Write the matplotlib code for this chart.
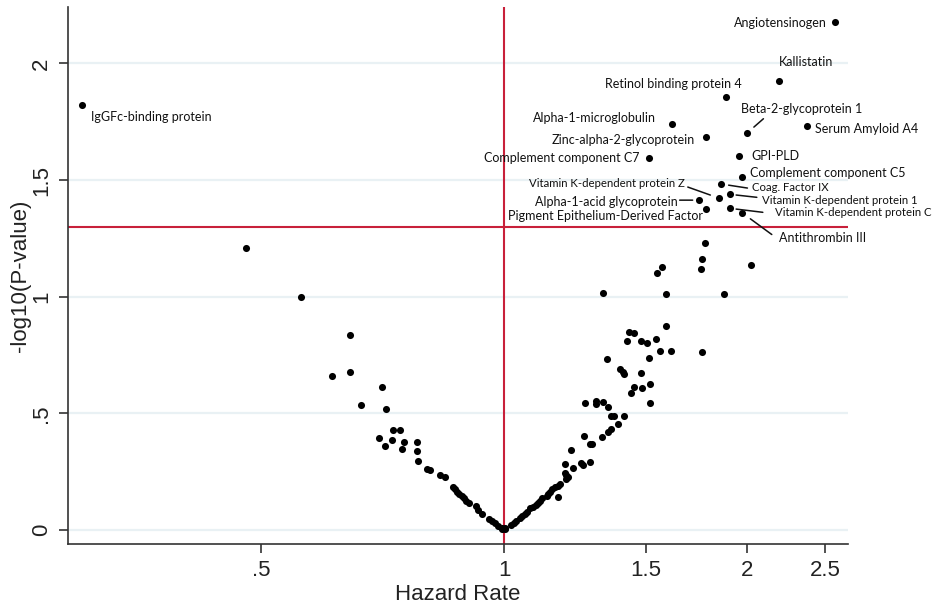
import numpy as np
import matplotlib
matplotlib.use("Agg")
import matplotlib.pyplot as plt
from matplotlib.ticker import FixedLocator, NullLocator

# unlabelled proteins: hazard rate and -log10(p)
hr_left = [0.479, 0.560, 0.645, 0.613, 0.644, 0.706, 0.666, 0.714, 0.729, 0.743,
           0.700, 0.727, 0.751, 0.780, 0.712, 0.748, 0.780, 0.783, 0.803, 0.809,
           0.832, 0.844, 0.865, 0.869, 0.875, 0.880, 0.886, 0.891, 0.898, 0.905,
           0.922, 0.929, 0.938, 0.958, 0.965, 0.974, 0.983, 0.993, 1.002]
lp_left = [1.210, 0.997, 0.837, 0.660, 0.677, 0.614, 0.536, 0.520, 0.429, 0.429,
           0.393, 0.386, 0.379, 0.379, 0.360, 0.349, 0.337, 0.297, 0.260, 0.257,
           0.236, 0.228, 0.186, 0.174, 0.164, 0.154, 0.146, 0.136, 0.126, 0.117,
           0.103, 0.086, 0.069, 0.046, 0.039, 0.029, 0.017, 0.007, 0.003]

hr_right = [1.773, 1.759, 1.752, 1.571, 1.547, 2.025, 1.326, 1.589, 1.873, 1.586,
            1.428, 1.448, 1.422, 1.476, 1.505, 1.541, 1.559, 1.612, 1.759, 1.512,
            1.342, 1.394, 1.402, 1.408, 1.480, 1.515, 1.449, 1.484, 1.435, 1.518,
            1.299, 1.301, 1.326, 1.345, 1.259, 1.358, 1.367, 1.408, 1.384, 1.358,
            1.345, 1.324, 1.255, 1.277, 1.287, 1.210, 1.189, 1.247, 1.251, 1.277,
            1.218, 1.189, 1.195, 1.200, 1.192, 1.172, 1.167, 1.156, 1.148, 1.139,
            1.134, 1.129, 1.167, 1.113, 1.107, 1.102, 1.097, 1.086, 1.078, 1.068,
            1.061, 1.054, 1.046, 1.036, 1.028, 1.021, 1.002, 0.995]
lp_right = [1.229, 1.160, 1.119, 1.129, 1.100, 1.136, 1.015, 1.012, 1.010, 0.874,
            0.850, 0.846, 0.811, 0.809, 0.803, 0.817, 0.769, 0.769, 0.764, 0.739,
            0.734, 0.689, 0.679, 0.669, 0.672, 0.625, 0.614, 0.610, 0.586, 0.543,
            0.554, 0.540, 0.549, 0.529, 0.546, 0.490, 0.489, 0.490, 0.454, 0.433,
            0.421, 0.400, 0.403, 0.369, 0.369, 0.343, 0.283, 0.288, 0.279, 0.293,
            0.264, 0.246, 0.236, 0.226, 0.217, 0.197, 0.189, 0.183, 0.174, 0.164,
            0.154, 0.146, 0.140, 0.136, 0.126, 0.114, 0.107, 0.100, 0.093, 0.078,
            0.069, 0.060, 0.050, 0.040, 0.031, 0.021, 0.007, 0.003]

# labelled proteins
names = ["Angiotensinogen", "Kallistatin", "Retinol binding protein 4",
         "Beta-2-glycoprotein 1", "Serum Amyloid A4", "Alpha-1-microglobulin",
         "Zinc-alpha-2-glycoprotein", "Complement component C7", "GPI-PLD",
         "Complement component C5", "Coag. Factor IX", "Vitamin K-dependent protein Z",
         "Vitamin K-dependent protein 1", "Alpha-1-acid glycoprotein",
         "Pigment Epithelium-Derived Factor", "Vitamin K-dependent protein C",
         "Antithrombin III", "IgGFc-binding protein"]
hr_lab = [2.568, 2.191, 1.882, 2.002, 2.373, 1.615, 1.778, 1.512, 1.955,
          1.970, 1.859, 1.845, 1.904, 1.742, 1.781, 1.904, 1.970, 0.300]
lp_lab = [2.179, 1.926, 1.855, 1.703, 1.732, 1.740, 1.683, 1.593, 1.603,
          1.514, 1.483, 1.423, 1.439, 1.414, 1.375, 1.379, 1.361, 1.822]

# label placement: pixel offset from the dot, alignment, font size, leader line start/end
label_pos = {
    "Angiotensinogen": (-8, -1, "right", 9, None),
    "Kallistatin": (0, 19, "left", 9, None),
    "Retinol binding protein 4": (16, 13, "right", 9, None),
    "Beta-2-glycoprotein 1": (-6, 24, "left", 9, ((8, 3), (16, 14))),
    "Serum Amyloid A4": (8, -3, "left", 9, None),
    "Alpha-1-microglobulin": (-16, 6, "right", 9, None),
    "Zinc-alpha-2-glycoprotein": (-11, -3, "right", 9, None),
    "Complement component C7": (-9, 0, "right", 9, None),
    "GPI-PLD": (12, 0, "left", 9, None),
    "Complement component C5": (8, 4, "left", 9, None),
    "Coag. Factor IX": (31, -3, "left", 8.2, ((7, -2), (26, -4))),
    "Vitamin K-dependent protein Z": (-34, 15, "right", 8.2, ((-8, 4), (-31, 11))),
    "Vitamin K-dependent protein 1": (32, -6, "left", 8.2, ((6, -2), (27, -3))),
    "Alpha-1-acid glycoprotein": (-21, -2, "right", 9, ((-6, 0), (-19, 0))),
    "Pigment Epithelium-Derived Factor": (-3, -7, "right", 9, None),
    "Vitamin K-dependent protein C": (45, -4, "left", 8.2, ((6, 2), (33, -4))),
    "Antithrombin III": (37, -25, "left", 9, ((7, -8), (30, -22))),
    "IgGFc-binding protein": (9, -12, "left", 9, None),
}

xticks = [0.5, 1, 1.5, 2, 2.5]
xticklabels = [".5", "1", "1.5", "2", "2.5"]
yticks = [0, 0.5, 1, 1.5, 2]
yticklabels = ["0", ".5", "1", "1.5", "2"]

plt.rcParams["font.family"] = ["Liberation Sans", "DejaVu Sans"]
fig = plt.figure(figsize=(9.42, 6.07), dpi=100)
ax = fig.add_axes([68 / 942, 63 / 607, 780 / 942, 537 / 607])

ax.set_xscale("log")
ax.set_xlim(0.2884, 2.667)
ax.set_ylim(-0.06, 2.242)

for y in yticks:
    ax.axhline(y, color="#e9f1f4", lw=1.6, zorder=0)

red = "#c8203a"
ax.axvline(1, color=red, lw=1.5, zorder=1)
ax.axhline(-np.log10(0.05), color=red, lw=1.5, zorder=1)

ax.scatter(hr_left + hr_right + hr_lab, lp_left + lp_right + lp_lab,
           s=26, color="black", linewidths=0, zorder=3)

for name, x, y in zip(names, hr_lab, lp_lab):
    dx, dy, ha, fs, leader = label_pos[name]
    ax.annotate(name, (x, y), xytext=(dx, dy), textcoords="offset pixels",
                ha=ha, va="center", fontsize=fs, family=["Lato", "DejaVu Sans"],
                color="#111111", zorder=4)
    if leader is not None:
        (sx, sy), (ex, ey) = leader
        gap = np.hypot(sx, sy) * 72 / 100
        ax.annotate("", (x, y), xytext=(ex, ey), textcoords="offset pixels",
                    arrowprops=dict(arrowstyle="-", lw=1.1, color="#111111",
                                    shrinkA=0, shrinkB=gap))

ax.xaxis.set_major_locator(FixedLocator(xticks))
ax.xaxis.set_minor_locator(NullLocator())
ax.set_xticklabels(xticklabels)
ax.set_yticks(yticks)
ax.set_yticklabels(yticklabels, rotation=90, va="center")

for s in ["top", "right"]:
    ax.spines[s].set_visible(False)
for s in ["left", "bottom"]:
    ax.spines[s].set_color("#333333")
    ax.spines[s].set_linewidth(1.2)
ax.tick_params(axis="both", length=6.5, width=1.2, color="#333333",
               labelsize=16, labelcolor="#222222", pad=5)

ax.set_xlabel("Hazard Rate", fontsize=16, color="#222222", labelpad=2)
ax.set_ylabel("-log10(P-value)", fontsize=16, color="#222222", labelpad=0)

fig.savefig("out.png", dpi=100, facecolor="white")
